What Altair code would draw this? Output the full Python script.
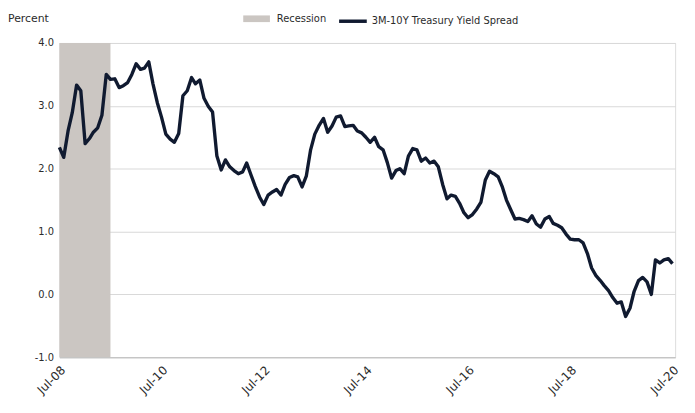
import altair as alt
import pandas as pd

# Monthly 3M-10Y Treasury yield spread (percent), Jul-2008 .. Jul-2020
start_month = "2008-07-01"
spread_2008 = [2.34, 2.18, 2.60, 2.89, 3.33, 3.24]
spread_2009 = [2.40, 2.48, 2.58, 2.65, 2.85, 3.50, 3.42, 3.43, 3.29, 3.32, 3.37, 3.50]
spread_2010 = [3.67, 3.58, 3.60, 3.70, 3.35, 3.05, 2.82, 2.55, 2.47, 2.42, 2.56, 3.16]
spread_2011 = [3.24, 3.45, 3.35, 3.41, 3.12, 2.99, 2.90, 2.20, 1.98, 2.14, 2.03, 1.97]
spread_2012 = [1.92, 1.95, 2.09, 1.90, 1.72, 1.55, 1.43, 1.58, 1.63, 1.67, 1.58, 1.75]
spread_2013 = [1.86, 1.89, 1.87, 1.71, 1.88, 2.30, 2.55, 2.69, 2.80, 2.58, 2.68, 2.82]
spread_2014 = [2.84, 2.67, 2.68, 2.69, 2.60, 2.57, 2.50, 2.42, 2.50, 2.35, 2.30, 2.10]
spread_2015 = [1.85, 1.97, 2.00, 1.92, 2.20, 2.32, 2.30, 2.12, 2.17, 2.09, 2.12, 2.03]
spread_2016 = [1.75, 1.52, 1.58, 1.56, 1.45, 1.30, 1.22, 1.27, 1.36, 1.47, 1.82, 1.96]
spread_2017 = [1.92, 1.87, 1.72, 1.50, 1.35, 1.20, 1.21, 1.19, 1.16, 1.25, 1.12, 1.07]
spread_2018 = [1.20, 1.24, 1.13, 1.10, 1.06, 0.96, 0.88, 0.87, 0.87, 0.82, 0.65, 0.42]
spread_2019 = [0.30, 0.22, 0.14, 0.06, -0.05, -0.14, -0.12, -0.35, -0.22, 0.05, 0.22, 0.27]
spread_2020 = [0.20, 0.00, 0.55, 0.50, 0.55, 0.57, 0.49]

spread = (spread_2008 + spread_2009 + spread_2010 + spread_2011 + spread_2012 +
          spread_2013 + spread_2014 + spread_2015 + spread_2016 + spread_2017 +
          spread_2018 + spread_2019 + spread_2020)
months = pd.date_range(start_month, periods=len(spread), freq="MS")

recession_start = ["2007-12-01"]
recession_end = ["2009-07-01"]
recession_label = ["Recession"]
series_label = "3M-10Y Treasury Yield Spread"
y_title = ["Percent"]

x_ticks = ["2008-07-01", "2010-07-01", "2012-07-01", "2014-07-01",
           "2016-07-01", "2018-07-01", "2020-07-01"]
y_ticks = [-1, 0, 1, 2, 3, 4]

line_df = pd.DataFrame({"date": months, "spread": spread, "series": series_label})
rec_df = pd.DataFrame({"start": pd.to_datetime(recession_start),
                       "end": pd.to_datetime(recession_end),
                       "label": recession_label})
title_df = pd.DataFrame({"t": y_title})

FONT = "DejaVu Sans"
TXT = "#2b2b2b"

x_scale = alt.Scale(domain=[alt.DateTime(year=2008, month=7, date=1),
                            alt.DateTime(year=2020, month=7, date=20)])
y_scale = alt.Scale(domain=[-1, 4], nice=False)

x_axis = alt.Axis(
    values=[alt.DateTime(year=int(d[:4]), month=7, date=1) for d in x_ticks],
    format="%b-%y", labelAngle=-45, labelAlign="right", labelBaseline="top",
    labelFontSize=12, labelFont=FONT, labelColor=TXT, labelPadding=7,
    ticks=False, domain=True, domainColor="#bdbdbd", grid=False, title=None,
)
y_axis = alt.Axis(
    values=y_ticks, format=".1f", labelExpr="replace(datum.label, '\u2212', '-')",
    labelFontSize=10, labelFont=FONT,
    labelColor=TXT, labelPadding=6, ticks=False, domain=False,
    grid=True, gridColor="#d9d9d9", gridWidth=1, title=None,
)

rec = alt.Chart(rec_df).mark_rect(clip=True).encode(
    x=alt.X("start:T", scale=x_scale, axis=x_axis),
    x2="end:T",
    y=alt.value(0),
    y2=alt.value(318),
    color=alt.Color("label:N",
                    scale=alt.Scale(domain=recession_label, range=["#cbc6c2"]),
                    legend=alt.Legend(title=None, orient="none", legendX=186, legendY=-38,
                                      symbolType="M-1,-0.25H1V0.25H-1Z", symbolSize=729,
                                      symbolStrokeWidth=0, labelFont=FONT, labelFontSize=10,
                                      labelColor=TXT, labelOffset=7)),
)

line = alt.Chart(line_df).mark_line(strokeWidth=3.4, strokeJoin="round").encode(
    x=alt.X("date:T", scale=x_scale, axis=x_axis),
    y=alt.Y("spread:Q", scale=y_scale, axis=y_axis),
    stroke=alt.Stroke("series:N",
                      scale=alt.Scale(domain=[series_label], range=["#101a30"]),
                      legend=alt.Legend(title=None, orient="none", legendX=281, legendY=-38,
                                        symbolType="stroke", symbolSize=784,
                                        symbolStrokeWidth=3.5, labelFont=FONT,
                                        labelFontSize=10, labelColor=TXT, labelOffset=3)),
)

ptitle = alt.Chart(title_df).mark_text(
    align="left", baseline="middle", font=FONT, fontSize=11, color=TXT
).encode(x=alt.value(-52), y=alt.value(-24), text="t:N")

chart = alt.layer(rec, line, ptitle).properties(
    width=623, height=318,
    autosize=alt.AutoSizeParams(type="none"),
    padding={"left": 52, "top": 33, "right": 12, "bottom": 54},
).configure_view(stroke=None).configure(background="white")

chart.save("out.html", embed_options={"renderer": "svg", "actions": False})
